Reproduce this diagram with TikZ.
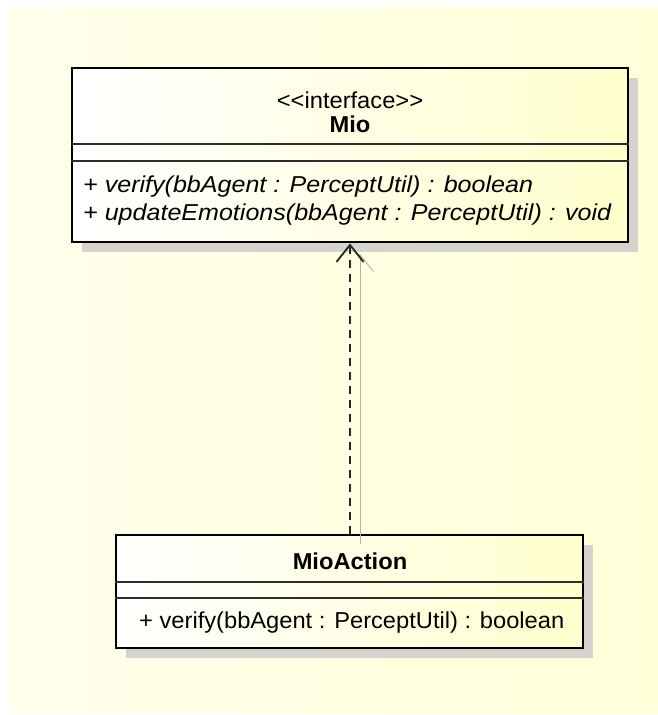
\documentclass[tikz,border=0pt]{standalone}
\usepackage{fontspec}
\setmainfont{Liberation Sans}[FakeStretch=1.03,Ligatures=TeXOff,ItalicFeatures={FakeStretch=1.09}]
\usetikzlibrary{arrows.meta,shadows}

\definecolor{bgleft}{RGB}{255,255,236}
\definecolor{bgright}{RGB}{255,255,216}
\definecolor{boxright}{RGB}{255,255,206}
\definecolor{shadowgray}{RGB}{212,212,204}
\definecolor{divgray}{RGB}{45,45,45}
\newcommand{\umlfont}{\fontsize{23}{27}\selectfont}

\tikzset{
  umlbox/.style={draw=black, line width=2.9pt, left color=white, right color=boxright,
    inner sep=0pt, drop shadow={shadow xshift=10pt, shadow yshift=-10pt, fill=shadowgray, opacity=1}},
  divider/.style={divgray, line width=1.4pt},
  member/.style={anchor=west, inner sep=0pt, font=\umlfont},
  title/.style={inner sep=0pt, font=\umlfont\bfseries},
  realize/.style={black!85, line width=1.8pt, dash pattern=on 8pt off 6pt,
    -{Straight Barb[length=17pt, width=27pt]}},
  realizeshadow/.style={shadowgray!85!black, line width=0.9pt,
    -{Straight Barb[length=17pt, width=27pt, right]}}
}

\begin{document}
\begin{tikzpicture}[x=1pt, y=-1pt]
  \useasboundingbox (0,0) rectangle (658,715);
  \fill[white] (0,0) rectangle (658,715);
  \shade[left color=bgleft, right color=bgright] (8,7) rectangle (658,713);

  % interface
  \node[umlbox, minimum width=556pt, minimum height=174pt] (mio) at (350,155) {};
  \node[inner sep=0pt, font=\umlfont] (mioStereo) at (350,100) {<<interface>>};
  \node[title] (mioName) at (350,124) {Mio};
  \draw[divider] (mio.west |- 0,144) -- (mio.east |- 0,144);
  \draw[divider] (mio.west |- 0,161) -- (mio.east |- 0,161);
  \node[member, font=\umlfont\itshape] (mioVerify) at (83,187) {+ verify(bbAgent : PerceptUtil) : boolean};
  \node[member, font=\umlfont\itshape] (mioUpdate) at (83,215) {+ updateEmotions(bbAgent : PerceptUtil) : void};

  % implementing class
  \node[umlbox, minimum width=467pt, minimum height=113pt] (mioAction) at (349.5,591.5) {};
  \node[title] (mioActionName) at (350,561) {MioAction};
  \draw[divider] (mioAction.west |- 0,582) -- (mioAction.east |- 0,582);
  \draw[divider] (mioAction.west |- 0,598) -- (mioAction.east |- 0,598);
  \node[member] (mioActionVerify) at (139,623) {+ verify(bbAgent : PerceptUtil) : boolean};

  % realization
  \coordinate (foot) at (mio.south |- mioAction.north);
  \draw[realizeshadow] ([shift={(10,10)}]foot) -- ([shift={(10,10)}]mio.south);
  \draw[realize] (foot) -- (mio.south);
\end{tikzpicture}
\end{document}
